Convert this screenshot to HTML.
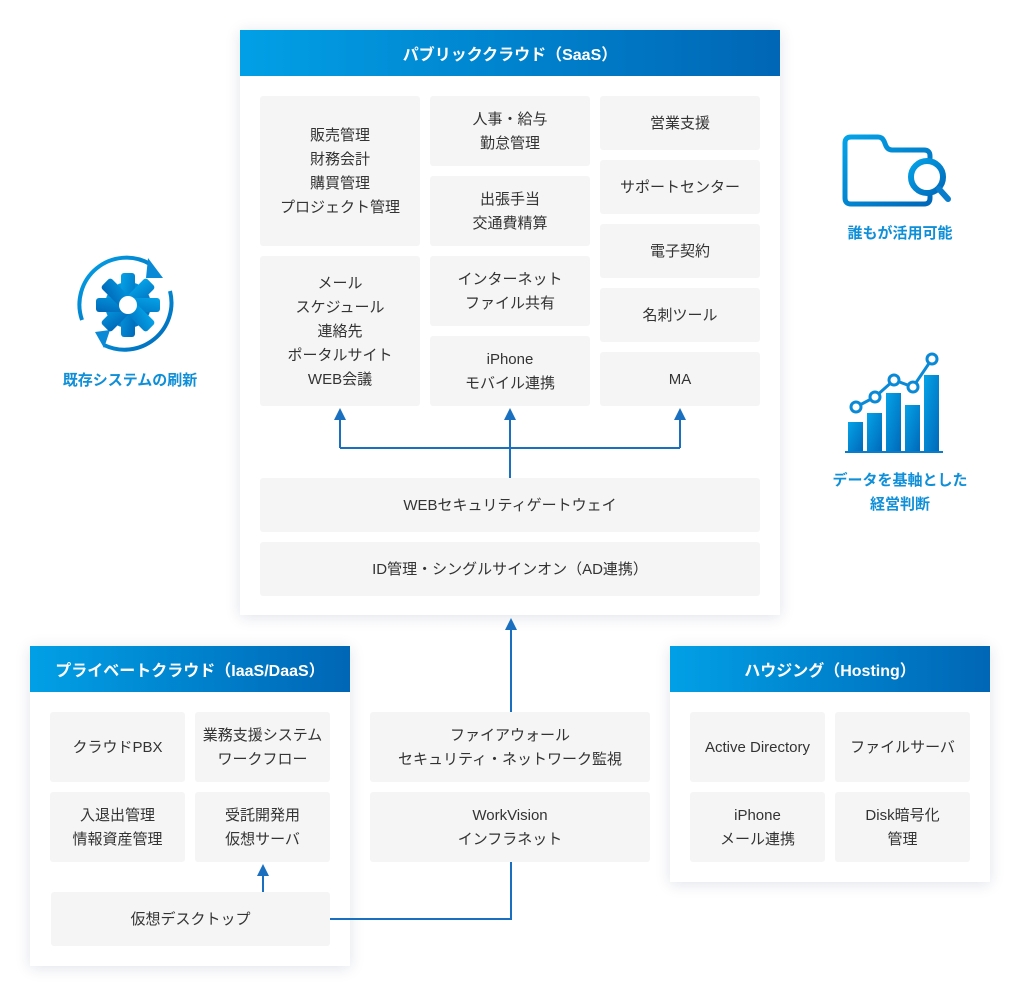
<!DOCTYPE html>
<html><head><meta charset="utf-8"><style>
body{margin:0;width:1020px;height:996px;background:#fff;position:relative;font-family:"Liberation Sans","Noto Sans CJK JP",sans-serif;overflow:hidden}
.p{position:absolute;background:#fff;box-shadow:0 2px 14px rgba(0,40,90,.13)}
.h{position:absolute;left:0;right:0;top:0;height:46px;background:linear-gradient(90deg,#01a0e6,#0066b5);color:#fff;font-weight:bold;font-size:16px;display:flex;align-items:center;justify-content:center}
.b{position:absolute;background:#f5f5f5;border-radius:3px;color:#333;font-size:15px;line-height:24px;display:flex;align-items:center;justify-content:center;text-align:center;padding-top:2px;box-sizing:border-box}
.l{position:absolute;color:#0e8fd8;font-weight:bold;font-size:15px;text-align:center;line-height:24px}
svg{position:absolute;left:0;top:0}
</style></head><body>
<div class="p" style="left:240px;top:30px;width:540px;height:585px"><div class="h">パブリッククラウド（SaaS）</div></div>
<div class="b" style="left:260px;top:96px;width:160px;height:150px">販売管理<br>財務会計<br>購買管理<br>プロジェクト管理</div>
<div class="b" style="left:260px;top:256px;width:160px;height:150px">メール<br>スケジュール<br>連絡先<br>ポータルサイト<br>WEB会議</div>
<div class="b" style="left:430px;top:96px;width:160px;height:70px">人事・給与<br>勤怠管理</div>
<div class="b" style="left:430px;top:176px;width:160px;height:70px">出張手当<br>交通費精算</div>
<div class="b" style="left:430px;top:256px;width:160px;height:70px">インターネット<br>ファイル共有</div>
<div class="b" style="left:430px;top:336px;width:160px;height:70px">iPhone<br>モバイル連携</div>
<div class="b" style="left:600px;top:96px;width:160px;height:54px">営業支援</div>
<div class="b" style="left:600px;top:160px;width:160px;height:54px">サポートセンター</div>
<div class="b" style="left:600px;top:224px;width:160px;height:54px">電子契約</div>
<div class="b" style="left:600px;top:288px;width:160px;height:54px">名刺ツール</div>
<div class="b" style="left:600px;top:352px;width:160px;height:54px">MA</div>
<div class="b" style="left:260px;top:478px;width:500px;height:54px">WEBセキュリティゲートウェイ</div>
<div class="b" style="left:260px;top:542px;width:500px;height:54px">ID管理・シングルサインオン（AD連携）</div>

<div class="p" style="left:30px;top:646px;width:320px;height:320px"><div class="h">プライベートクラウド（IaaS/DaaS）</div></div>
<div class="b" style="left:50px;top:712px;width:135px;height:70px">クラウドPBX</div>
<div class="b" style="left:195px;top:712px;width:135px;height:70px">業務支援システム<br>ワークフロー</div>
<div class="b" style="left:50px;top:792px;width:135px;height:70px">入退出管理<br>情報資産管理</div>
<div class="b" style="left:195px;top:792px;width:135px;height:70px">受託開発用<br>仮想サーバ</div>
<div class="b" style="left:51px;top:892px;width:279px;height:54px">仮想デスクトップ</div>

<div class="b" style="left:370px;top:712px;width:280px;height:70px">ファイアウォール<br>セキュリティ・ネットワーク監視</div>
<div class="b" style="left:370px;top:792px;width:280px;height:70px">WorkVision<br>インフラネット</div>

<div class="p" style="left:670px;top:646px;width:320px;height:236px"><div class="h">ハウジング（Hosting）</div></div>
<div class="b" style="left:690px;top:712px;width:135px;height:70px">Active Directory</div>
<div class="b" style="left:835px;top:712px;width:135px;height:70px">ファイルサーバ</div>
<div class="b" style="left:690px;top:792px;width:135px;height:70px">iPhone<br>メール連携</div>
<div class="b" style="left:835px;top:792px;width:135px;height:70px">Disk暗号化<br>管理</div>

<svg width="1020" height="996">
<defs><linearGradient id="g" x1="0" y1="0" x2="1" y2="1"><stop offset="0" stop-color="#04a3e8"/><stop offset="1" stop-color="#0068b8"/></linearGradient></defs>
<g stroke="#1a6fbf" stroke-width="2" fill="none">
<path d="M510 478V448M340 448H680M340 448V418M510 448V418M680 448V418"/>
<path d="M511 712V628M511 862V919H330M263 892V874"/>
</g>
<g fill="#1a6fbf">
<path d="M334 420L340 408L346 420ZM504 420L510 408L516 420ZM674 420L680 408L686 420Z"/>
<path d="M505 630L511 618L517 630ZM257 876L263 864L269 876Z"/>
</g>
<!-- gear icon -->
<g stroke="url(#g)" stroke-width="4" fill="none">
<path d="M150 264A47 47 0 0 0 82 320"/><path d="M170 291A47 47 0 0 1 104 345"/>
</g>
<path fill="#0a8ad6" d="M148 258L163 278L146 278ZM95 332L110 330L104 348Z" />
<g transform="translate(128,305)" fill="url(#g)">
<circle r="23"/>
<g><rect x="-7" y="-32" width="14" height="64" rx="3"/><rect x="-7" y="-32" width="14" height="64" rx="3" transform="rotate(45)"/><rect x="-7" y="-32" width="14" height="64" rx="3" transform="rotate(90)"/><rect x="-7" y="-32" width="14" height="64" rx="3" transform="rotate(135)"/></g>
<circle r="9" fill="#fff"/>
</g>
<!-- folder icon -->
<path d="M851 137H878Q882 137 884 141L886 146Q888 150 892 150H924Q930 150 930 156V198Q930 204 924 204H851Q845 204 845 198V143Q845 137 851 137Z" stroke="url(#g)" stroke-width="5" fill="#fff"/>
<path d="M846 153H929" stroke="url(#g)" stroke-width="3"/>
<circle cx="927" cy="177" r="16" fill="#fff" stroke="url(#g)" stroke-width="6"/>
<path d="M939 189L948 199" stroke="#0a7ccc" stroke-width="6" stroke-linecap="round"/>
<!-- chart icon -->
<g fill="url(#g)"><rect x="848" y="422" width="15" height="30"/><rect x="867" y="413" width="15" height="39"/><rect x="886" y="393" width="15" height="59"/><rect x="905" y="405" width="15" height="47"/><rect x="924" y="375" width="15" height="77"/></g>
<path d="M845 452H943" stroke="#0a7ccc" stroke-width="2"/>
<path d="M856 407L875 397L894 380L913 387L932 359" stroke="#0a8ad6" stroke-width="3" fill="none"/>
<g fill="#fff" stroke="#0a8ad6" stroke-width="3"><circle cx="856" cy="407" r="5"/><circle cx="875" cy="397" r="5"/><circle cx="894" cy="380" r="5"/><circle cx="913" cy="387" r="5"/><circle cx="932" cy="359" r="5"/></g>
</svg>
<div class="l" style="left:40px;top:369px;width:180px">既存システムの刷新</div>
<div class="l" style="left:800px;top:222px;width:200px">誰もが活用可能</div>
<div class="l" style="left:800px;top:469px;width:200px">データを基軸とした<br>経営判断</div>
</body></html>
